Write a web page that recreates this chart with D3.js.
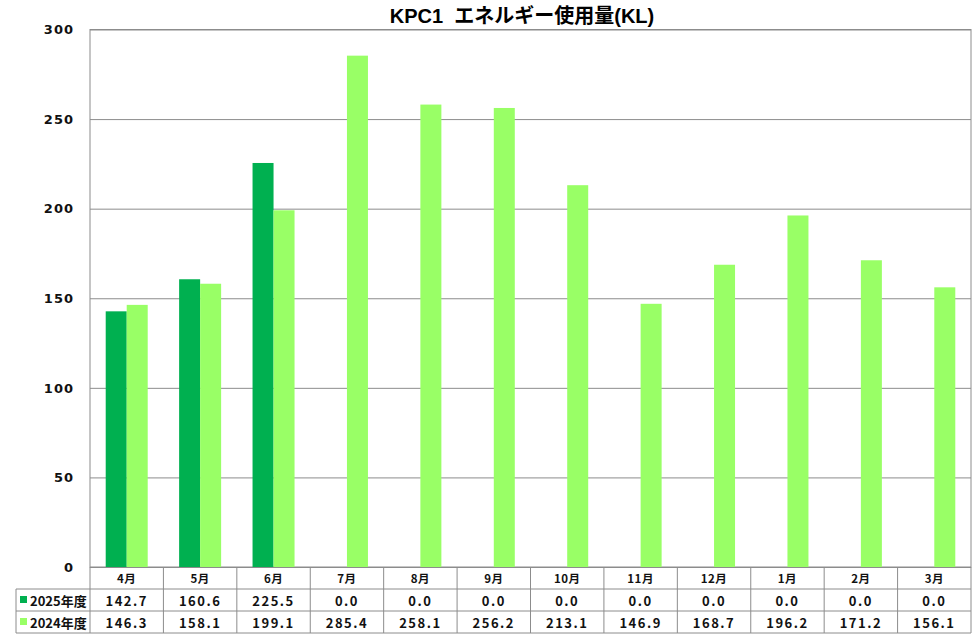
<!DOCTYPE html>
<html>
<head>
<meta charset="utf-8">
<script src="https://cdn.jsdelivr.net/npm/d3@7"></script>
<style>
  body { margin: 0; background: #fff; }
  text { font-family: "Noto Sans CJK JP", "DejaVu Sans", sans-serif; }
</style>
</head>
<body>
<div id="chart"></div>
<script>
// data
const months = ['4月', '5月', '6月', '7月', '8月', '9月', '10月', '11月', '12月', '1月', '2月', '3月'];
const seriesNames = ['2025年度', '2024年度'];
const values2025 = [142.7, 160.6, 225.5, 0.0, 0.0, 0.0, 0.0, 0.0, 0.0, 0.0, 0.0, 0.0];
const values2024 = [146.3, 158.1, 199.1, 285.4, 258.1, 256.2, 213.1, 146.9, 168.7, 196.2, 171.2, 156.1];
const yTicks = [0, 50, 100, 150, 200, 250, 300];
const title = 'KPC1  エネルギー使用量(KL)';

const width = 977;
const height = 638;
const colors = ['#00B050', '#99FF66'];

const margins = { top: 29.5, left: 90, right: 6, bottom: 71 };
const plotW = width - margins.left - margins.right;
const plotH = height - margins.top - margins.bottom;
const tableLeft = 16;
const rowH = 22;

const svg = d3.select('#chart')
    .append('svg')
    .attr('width', width)
    .attr('height', height);

svg.append('text')
    .attr('x', 522)
    .attr('y', 23)
    .attr('text-anchor', 'middle')
    .style('font-size', '20px')
    .style('font-weight', 'bold')
    .style('white-space', 'pre')
    .style('font-family', '"Liberation Sans", "Noto Sans CJK JP", sans-serif')
    .text(title);

const chart = svg.append('g')
    .attr('transform', `translate(${margins.left}, ${margins.top})`);

const xScale = d3.scaleBand()
    .domain(months)
    .range([0, plotW]);

const xInner = d3.scaleBand()
    .domain(seriesNames)
    .range([0, 42]);

const yScale = d3.scaleLinear()
    .domain([0, 300])
    .range([plotH, 0]);

// gridlines
const yGrid = d3.axisLeft(yScale)
    .tickValues(yTicks)
    .tickSize(-plotW)
    .tickFormat('');

chart.append('g')
    .call(yGrid)
    .call(g => g.select('.domain').remove())
    .selectAll('line')
    .attr('stroke', '#8c8c8c')
    .attr('stroke-width', 1);

// y labels
const yAxis = d3.axisLeft(yScale)
    .tickValues(yTicks)
    .tickSize(0)
    .tickPadding(16);

chart.append('g')
    .call(yAxis)
    .call(g => g.select('.domain').remove())
    .selectAll('text')
    .style('font-size', '13px')
    .style('font-weight', 'bold')
    .style('letter-spacing', '1px')
    .style('font-family', '"DejaVu Sans", sans-serif')
    .attr('fill', '#111');

// plot frame
chart.append('rect')
    .attr('x', 0)
    .attr('y', 0)
    .attr('width', plotW)
    .attr('height', plotH)
    .attr('fill', 'none')
    .attr('stroke', '#8c8c8c');

// bars
const seriesData = [values2025, values2024];
seriesData.forEach((vals, si) => {
    chart.append('g')
        .selectAll('rect')
        .data(vals)
        .enter()
        .append('rect')
        .attr('x', (d, i) => xScale(months[i]) + (xScale.bandwidth() - 42) / 2 + xInner(seriesNames[si]))
        .attr('y', d => yScale(d))
        .attr('width', xInner.bandwidth())
        .attr('height', d => plotH - yScale(d))
        .attr('fill', colors[si]);
});

// data table
const table = svg.append('g')
    .attr('transform', `translate(0, ${margins.top + plotH})`);

const lineColor = '#8c8c8c';
const tableBottom = rowH * 3;

// horizontal lines
[rowH, rowH * 2, tableBottom].forEach(y => {
    table.append('line')
        .attr('x1', tableLeft).attr('x2', margins.left + plotW)
        .attr('y1', y).attr('y2', y)
        .attr('stroke', lineColor);
});
table.append('line')
    .attr('x1', tableLeft).attr('x2', tableLeft)
    .attr('y1', rowH).attr('y2', tableBottom)
    .attr('stroke', lineColor);

// vertical column lines
table.append('g')
    .selectAll('line')
    .data(months)
    .enter()
    .append('line')
    .attr('x1', d => margins.left + xScale(d) + xScale.bandwidth())
    .attr('x2', d => margins.left + xScale(d) + xScale.bandwidth())
    .attr('y1', 0)
    .attr('y2', tableBottom)
    .attr('stroke', lineColor);
table.append('line')
    .attr('x1', margins.left).attr('x2', margins.left)
    .attr('y1', 0).attr('y2', tableBottom)
    .attr('stroke', lineColor);

const cellFont = g => g
    .attr('text-anchor', 'middle')
    .attr('dominant-baseline', 'central')
    .style('font-size', '13px')
    .style('font-weight', 'bold')
    .style('letter-spacing', '1.5px')
    .attr('fill', '#111');

// month labels
table.append('g')
    .selectAll('text')
    .data(months)
    .enter()
    .append('text')
    .attr('x', d => margins.left + xScale(d) + xScale.bandwidth() / 2)
    .attr('y', rowH / 2)
    .call(cellFont)
    .style('font-size', '11.5px')
    .style('letter-spacing', '0.5px')
    .text(d => d);

// values
seriesData.forEach((vals, si) => {
    table.append('g')
        .selectAll('text')
        .data(vals)
        .enter()
        .append('text')
        .attr('x', (d, i) => margins.left + xScale(months[i]) + xScale.bandwidth() / 2)
        .attr('y', rowH * (si + 1) + rowH / 2)
        .call(cellFont)
        .text(d => d.toFixed(1));

    // legend key + row name
    table.append('rect')
        .attr('x', 20)
        .attr('y', rowH * (si + 1) + rowH / 2 - 4)
        .attr('width', 7)
        .attr('height', 7)
        .attr('fill', colors[si]);
    table.append('text')
        .attr('x', 30)
        .attr('y', rowH * (si + 1) + rowH / 2)
        .attr('dominant-baseline', 'central')
        .style('font-size', '13px')
        .style('font-weight', 'bold')
        .attr('fill', '#111')
        .text(seriesNames[si]);
});
</script>
</body>
</html>
